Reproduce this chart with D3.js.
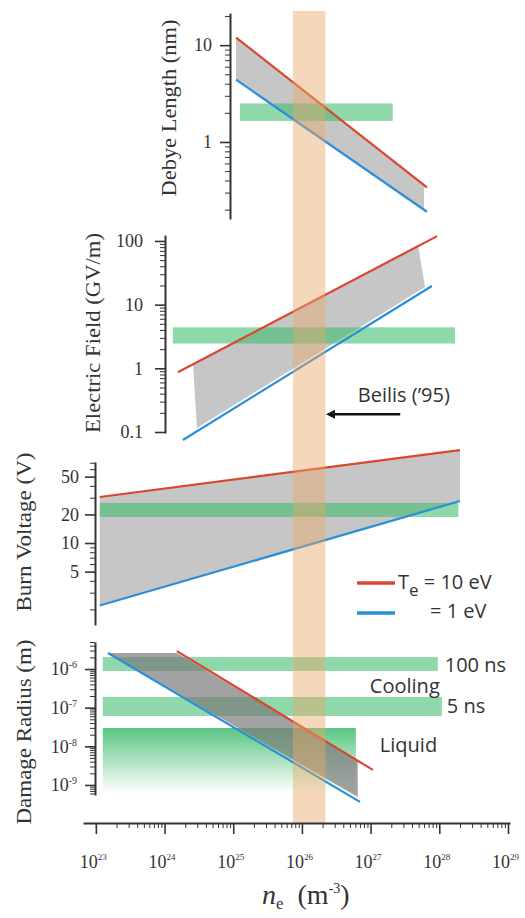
<!DOCTYPE html>
<html>
<head>
<meta charset="utf-8">
<script src="https://cdn.jsdelivr.net/npm/d3@7"></script>
<style>
  body { margin: 0; background: #fff; }
  svg text { fill: #333; }
  .serif { font-family: "Liberation Serif", "Times New Roman", serif; }
  .sans { font-family: "Open Sans", "Noto Sans", sans-serif; }
</style>
</head>
<body>
<div id="chart"></div>
<script>
// shared x axis: electron density n_e (m^-3)
var neTicks = [1e23, 1e24, 1e25, 1e26, 1e27, 1e28, 1e29];
var neTickExp = ["23", "24", "25", "26", "27", "28", "29"];
var beilisNe = [7.4e25, 2.2e26];          // orange band

// Debye length (nm)
var debyeTicks = [1, 10];
var debyeHot  = [[1.1e25, 12], [6.6e27, 0.34]];
var debyeCold = [[1.1e25, 4.4], [6.6e27, 0.19]];
var debyeFill = [[1.1e25, 12], [6.0e27, 0.37], [6.0e27, 0.2], [1.1e25, 4.4]];
var debyeBands = [[1.25e25, 2.1e27, 1.65, 2.5]];

// Electric field (GV/m)
var fieldTicks = [0.1, 1, 10, 100];
var fieldHot  = [[1.56e24, 0.87], [9.3e27, 119]];
var fieldCold = [[1.85e24, 0.075], [7.8e27, 19.6]];
var fieldFill = [[2.6e24, 1.13], [4.9e27, 86], [6.2e27, 18.9], [2.96e24, 0.116]];
var fieldBands = [[1.32e24, 1.69e28, 2.45, 4.4]];
var beilisNote = [6.5e26, 0.3];
var beilisArrow = [2.7e27, 0.19];

// Burn voltage (V)
var voltTicks = [5, 10, 20, 50];
var voltHot  = [[1.14e23, 30.5], [2.0e28, 95]];
var voltCold = [[1.14e23, 2.2], [2.0e28, 27.7]];
var voltFill = [[1.14e23, 30.5], [2.0e28, 95], [2.0e28, 27.7], [1.14e23, 2.2]];
var voltBands = [[1.14e23, 1.9e28, 18.8, 26.4]];

// Damage radius (m)
var radiusTicks = [1e-9, 1e-8, 1e-7, 1e-6];
var radiusExp = ["-9", "-8", "-7", "-6"];
var radiusHot  = [[1.51e24, 2.9e-6], [1.08e27, 2.45e-9]];
var radiusCold = [[1.5e23, 2.6e-6], [7.0e26, 3.66e-10]];
var radiusFill = [[1.5e23, 2.6e-6], [1.51e24, 2.6e-6], [6.5e26, 4.2e-9], [6.5e26, 4.9e-10]];
var radiusBands = [[1.26e23, 9.5e27, 8.9e-7, 2.04e-6], [1.26e23, 1.09e28, 6.1e-8, 1.89e-7]];
var liquidBand = [1.26e23, 6.1e26, 6.25e-10, 2.98e-8];

var RED = "#d9472f", BLUE = "#2b8ed8", GREEN = "#3dbb6c";

var svg = d3.select("#chart").append("svg")
  .attr("width", 525).attr("height", 918);

var defs = svg.append("defs");
var grad = defs.append("linearGradient").attr("id", "liquid")
  .attr("x1", 0).attr("y1", 0).attr("x2", 0).attr("y2", 1);
grad.append("stop").attr("offset", "0%").attr("stop-color", "#3dbb6c").attr("stop-opacity", 0.85);
grad.append("stop").attr("offset", "100%").attr("stop-color", "#3dbb6c").attr("stop-opacity", 0);

defs.append("marker").attr("id", "arrow")
  .attr("viewBox", "0 0 10 10").attr("refX", 1).attr("refY", 5)
  .attr("markerWidth", 4).attr("markerHeight", 4).attr("orient", "auto-start-reverse")
  .append("path").attr("d", "M0,0L10,5L0,10z").attr("fill", "#111");

var x = d3.scaleLog().domain([6.5e22, 1.07e29]).range([83, 510]);

function minorTicks(lo, hi, skip) {
  var out = [];
  for (var e = Math.floor(Math.log10(lo)); e <= Math.ceil(Math.log10(hi)); e++) {
    for (var m = 1; m < 10; m++) {
      var v = m * Math.pow(10, e);
      if (v >= lo * 0.999 && v <= hi * 1.001 && skip.indexOf(v) < 0) out.push(v);
    }
  }
  return out;
}

var panels = [
  { label: "Debye Length (nm)", axisX: 230, domain: [0.16, 21.5], range: [219, 13],
    ticks: debyeTicks, hot: debyeHot, cold: debyeCold, fill: debyeFill, bands: debyeBands,
    labelX: 176, labelY: 108, labelLen: 177, pad: 8, grayTop: false },
  { label: "Electric Field (GV/m)", axisX: 165, domain: [0.0964, 124], range: [433, 235],
    ticks: fieldTicks, hot: fieldHot, cold: fieldCold, fill: fieldFill, bands: fieldBands,
    labelX: 100, labelY: 333, labelLen: 200, pad: 12, grayTop: false },
  { label: "Burn Voltage (V)", axisX: 95, domain: [1.37, 71.3], range: [625, 462],
    ticks: voltTicks, hot: voltHot, cold: voltCold, fill: voltFill, bands: voltBands,
    labelX: 31, labelY: 532, labelLen: 159, pad: 6, grayTop: false },
  { label: "Damage Radius (m)", axisX: 95, domain: [5.5e-10, 5e-6], range: [795, 642],
    ticks: radiusTicks, hot: radiusHot, cold: radiusCold, fill: radiusFill, bands: radiusBands,
    labelX: 31, labelY: 732, labelLen: 185, pad: 8, grayTop: true, exps: radiusExp }
];

var marks = svg.append("g");
var over = svg.append("g");
var axes = svg.append("g");

panels.forEach(function(p) {
  var y = d3.scaleLog().domain(p.domain).range(p.range);
  p.y = y;
  var g = marks.append("g");
  var line = d3.line().x(function(d) { return x(d[0]); }).y(function(d) { return y(d[1]); });

  function drawFill() {
    g.append("path")
      .attr("d", line(p.fill) + "Z")
      .attr("fill", p.grayTop ? "#7a7a7a" : "#c6c6c6")
      .attr("fill-opacity", p.grayTop ? 0.7 : 1);
  }
  if (!p.grayTop) drawFill();

  if (p === panels[3]) {
    g.append("rect")
      .attr("x", x(liquidBand[0])).attr("width", x(liquidBand[1]) - x(liquidBand[0]))
      .attr("y", y(liquidBand[3])).attr("height", y(liquidBand[2]) - y(liquidBand[3]))
      .attr("fill", "url(#liquid)");
  }

  g.selectAll(".band").data(p.bands).enter().append("rect")
    .attr("class", "band")
    .attr("x", function(d) { return x(d[0]); })
    .attr("width", function(d) { return x(d[1]) - x(d[0]); })
    .attr("y", function(d) { return y(d[3]); })
    .attr("height", function(d) { return y(d[2]) - y(d[3]); })
    .attr("fill", GREEN).attr("fill-opacity", 0.58);

  if (p.grayTop) drawFill();

  g.append("path").attr("d", line(p.hot)).attr("fill", "none")
    .attr("stroke", RED).attr("stroke-width", 2.2);
  g.append("path").attr("d", line(p.cold)).attr("fill", "none")
    .attr("stroke", BLUE).attr("stroke-width", 2.2);

  // y axis: major + minor ticks
  var ag = axes.append("g").attr("transform", "translate(" + p.axisX + ",0)");
  ag.append("g")
    .call(d3.axisLeft(y).tickValues(minorTicks(p.domain[0], p.domain[1], p.ticks))
      .tickSize(5).tickSizeOuter(0).tickFormat(""))
    .call(function(s) { s.select(".domain").attr("stroke-width", 2); });
  var maj = ag.append("g")
    .call(d3.axisLeft(y).tickValues(p.ticks).tickSize(10).tickSizeOuter(0)
      .tickPadding(p.pad).tickFormat(function(d) { return p.exps ? "10" : String(d); }));
  maj.select(".domain").remove();
  maj.selectAll("line").attr("stroke-width", 1.6);
  maj.selectAll("text")
    .attr("class", "serif").attr("font-size", 18).attr("font-family", null)
    .style("fill", "#333");
  if (p.exps) {
    maj.selectAll("text").each(function(d, i) {
      d3.select(this).append("tspan").attr("dy", -7).attr("font-size", 10).text(p.exps[i]);
    });
  }
  ag.selectAll("line").attr("stroke", "#333");
  ag.selectAll(".domain").attr("stroke", "#333");

  // rotated axis title
  svg.append("text").attr("class", "serif")
    .attr("transform", "translate(" + p.labelX + "," + p.labelY + ") rotate(-90)")
    .attr("text-anchor", "middle").attr("font-size", 20)
    .attr("textLength", p.labelLen).attr("lengthAdjust", "spacingAndGlyphs")
    .text(p.label);
});

// Beilis ('95) density range
over.append("rect")
  .attr("x", x(beilisNe[0])).attr("width", x(beilisNe[1]) - x(beilisNe[0]))
  .attr("y", panels[0].range[1] - 2).attr("height", 823 - panels[0].range[1] + 2)
  .attr("fill", "#e8a868").attr("fill-opacity", 0.45);

var yF = panels[1].y;
over.append("line")
  .attr("x1", x(beilisArrow[0])).attr("y1", yF(beilisArrow[1]))
  .attr("x2", x(beilisNe[1]) + 9).attr("y2", yF(beilisArrow[1]))
  .attr("stroke", "#111").attr("stroke-width", 2.4)
  .attr("marker-end", "url(#arrow)");
over.append("text").attr("class", "sans")
  .attr("x", x(beilisNote[0])).attr("y", yF(beilisNote[1]))
  .attr("font-size", 20).text("Beilis (\u201995)");

// damage radius band labels
var yR = panels[3].y;
var b100 = radiusBands[0], b5 = radiusBands[1];
over.append("text").attr("class", "sans").attr("font-size", 20)
  .attr("x", x(b100[1]) + 7).attr("y", (yR(b100[2]) + yR(b100[3])) / 2 + 8).text("100 ns");
over.append("text").attr("class", "sans").attr("font-size", 20)
  .attr("x", x(b5[1]) + 5).attr("y", (yR(b5[2]) + yR(b5[3])) / 2 + 7).text("5 ns");
over.append("text").attr("class", "sans").attr("font-size", 20).attr("text-anchor", "end")
  .attr("x", x(b100[1]) + 2).attr("y", yR(b5[3]) - 4).text("Cooling");
over.append("text").attr("class", "sans").attr("font-size", 20)
  .attr("x", x(liquidBand[1]) + 24).attr("y", yR(1e-8) + 6).text("Liquid");

// legend
var leg = over.append("g");
leg.append("line").attr("x1", 357).attr("x2", 395).attr("y1", 583).attr("y2", 583)
  .attr("stroke", RED).attr("stroke-width", 3.5);
leg.append("line").attr("x1", 357).attr("x2", 395).attr("y1", 613).attr("y2", 613)
  .attr("stroke", BLUE).attr("stroke-width", 3.5);
var t1 = leg.append("text").attr("class", "sans").attr("font-size", 20)
  .attr("x", 398).attr("y", 589);
t1.append("tspan").text("T");
t1.append("tspan").attr("dy", 7).attr("font-size", 17).text("e");
t1.append("tspan").attr("dy", -7).text(" = 10 eV");
leg.append("text").attr("class", "sans").attr("font-size", 20)
  .attr("x", 430).attr("y", 618).text("= 1 eV");

// shared x axis
var xg = axes.append("g").attr("transform", "translate(0,823)");
xg.append("g")
  .call(d3.axisBottom(x).tickValues(minorTicks(1e23, 1e29, neTicks)).tickSize(5)
    .tickSizeOuter(0).tickFormat(""))
  .call(function(s) { s.select(".domain").attr("stroke-width", 2); });
var xm = xg.append("g")
  .call(d3.axisBottom(x).tickValues(neTicks).tickSize(11).tickSizeOuter(0)
    .tickFormat(function() { return "10"; }));
xm.select(".domain").remove();
xm.selectAll("line").attr("stroke-width", 1.6);
xm.selectAll("text")
  .attr("class", "serif").attr("font-size", 18).attr("font-family", null)
  .attr("y", 45).attr("dy", 0).attr("dx", -3)
  .each(function(d, i) {
    d3.select(this).append("tspan").attr("dy", -8).attr("font-size", 9).text(neTickExp[i]);
  });
xg.selectAll("line").attr("stroke", "#333");
xg.selectAll(".domain").attr("stroke", "#333");

// x title
var xt = svg.append("text").attr("class", "serif").attr("font-size", 28)
  .attr("x", 262).attr("y", 904);
xt.append("tspan").attr("font-style", "italic").text("n");
xt.append("tspan").attr("dy", 5).attr("font-size", 17).text("e");
xt.append("tspan").attr("dy", -5).attr("dx", 14).text("(m");
xt.append("tspan").attr("dy", -11).attr("font-size", 14).text("-3");
xt.append("tspan").attr("dy", 11).text(")");
</script>
</body>
</html>
